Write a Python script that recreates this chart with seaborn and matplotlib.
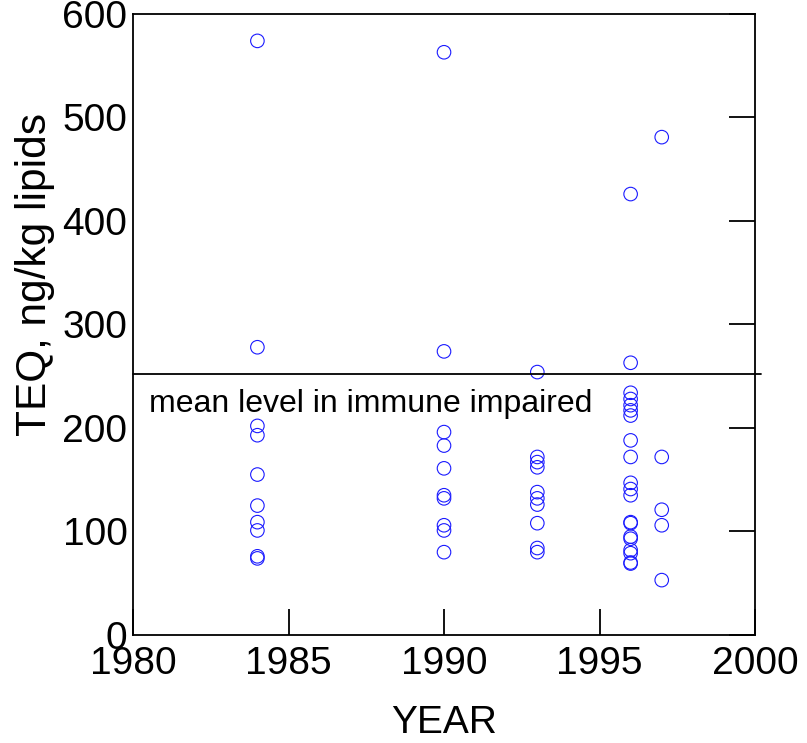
import matplotlib
matplotlib.use('Agg')
import matplotlib.pyplot as plt
import pandas as pd
import seaborn as sns

# values
years_1984 = [574, 278, 202, 193, 155, 125, 109, 101, 76, 74]
years_1990 = [563, 274, 196, 183, 161, 135, 132, 106, 101, 80]
years_1993 = [254, 172, 167, 162, 138, 132, 126, 108, 84, 80]
years_1996 = [426, 263, 234, 228, 222, 217, 212, 188, 172, 147, 141, 135,
              109, 108, 95, 93, 82, 79, 70, 69]
years_1997 = [481, 172, 121, 106, 53]
mean_level = 252
mean_label = 'mean level in immune impaired'

rows = []
for yr, vals in [(1984, years_1984), (1990, years_1990), (1993, years_1993),
                 (1996, years_1996), (1997, years_1997)]:
    for v in vals:
        rows.append({'year': yr, 'teq': v})
df = pd.DataFrame(rows)

sns.set_style('white')
plt.rcParams['font.family'] = ['Liberation Sans', 'DejaVu Sans']
plt.rcParams['text.color'] = 'black'
plt.rcParams['axes.labelcolor'] = 'black'
plt.rcParams['xtick.color'] = 'black'
plt.rcParams['ytick.color'] = 'black'

fig = plt.figure(figsize=(8.07, 7.43), dpi=100)
ax = fig.add_axes([0.1648, 0.1454, 0.7708, 0.8358])

sns.scatterplot(data=df, x='year', y='teq', ax=ax, marker='o', s=95,
                facecolor='none', edgecolor='#1a1aff', linewidth=0.8)

ax.axhline(mean_level, xmin=0, xmax=1.009, color='black', linewidth=1.3, clip_on=False)
ax.text(1980.5, mean_level - 14, mean_label, fontsize=23, va='top', ha='left')

ax.set_xlim(1980, 2000)
ax.set_ylim(0, 600)
ax.set_xticks([1980, 1985, 1990, 1995, 2000])
ax.set_yticks([0, 100, 200, 300, 400, 500, 600])

ax.tick_params(axis='x', direction='in', length=19, width=1.3, labelsize=28, pad=8,
               bottom=True, top=False)
ax.tick_params(axis='y', direction='in', length=19, width=1.3, labelsize=28, pad=4,
               left=False, right=True, labelleft=True, labelright=False)

for s in ax.spines.values():
    s.set_color('black')
    s.set_linewidth(1.3)

ax.set_xlabel('YEAR', fontsize=28)
ax.set_ylabel('TEQ, ng/kg lipids', fontsize=30.5)
ax.xaxis.set_label_coords(0.5, -0.112)
ax.yaxis.set_label_coords(-0.125, 0.58)

plt.savefig('out.png', dpi=100)
